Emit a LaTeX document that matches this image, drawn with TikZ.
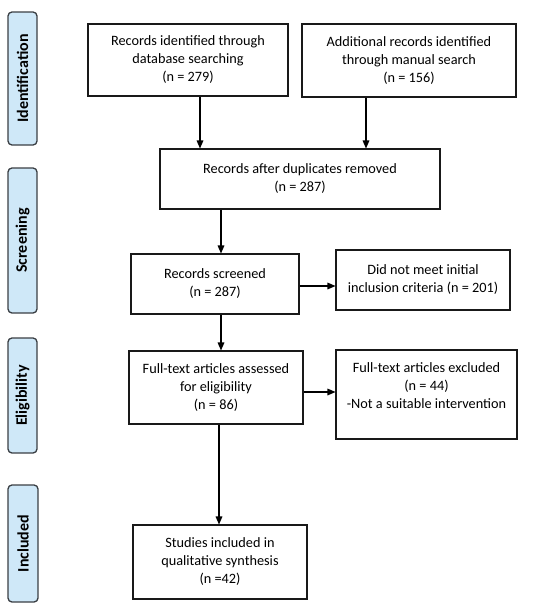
\documentclass[tikz,border=0pt]{standalone}
\usepackage{fontspec}
\setmainfont{Carlito}
\usetikzlibrary{arrows.meta}
\definecolor{stagefill}{HTML}{CFE8F8}
\definecolor{stageline}{HTML}{3A3F44}
\begin{document}
\begin{tikzpicture}[x=0.75pt,y=-0.75pt,
  sz/.style 2 args={minimum width=#1*0.75pt, minimum height=#2*0.75pt},
  flowbox/.style={draw=black!90, line width=0.8pt, fill=white, align=center,
    inner sep=0pt, font=\fontsize{10.7}{13.5}\selectfont},
  stage/.style={draw=stageline, line width=1pt, fill=stagefill, rounded corners=3pt,
    rotate=90, inner sep=0pt, font=\fontsize{12}{14}\selectfont\bfseries},
  flow/.style={line width=0.8pt, -{Triangle[length=6pt,width=5pt]}}]
\useasboundingbox (0,0) rectangle (546,607);
% stage labels
\node[stage, sz={133}{29}] (s1) at (22.5,78.5) {Identification};
\node[stage, sz={145}{29}] (s2) at (22.5,240.5) {Screening};
\node[stage, sz={115}{29}] (s3) at (22.5,395.5) {Eligibility};
\node[stage, sz={117}{30}] (s4) at (23,543.5) {Included};
% boxes
\node[flowbox, sz={200}{72}] (b1) at (188,60) {Records identified through\\database searching\\(n = 279)};
\node[flowbox, sz={214}{73}] (b2) at (409,60.5) {Additional records identified\\through manual search\\(n = 156)};
\node[flowbox, sz={280}{60}] (b3) at (300,179) {Records after duplicates removed\\(n = 287)};
\node[flowbox, sz={168}{60}] (b4) at (215,284) {Records screened\\(n = 287)};
\node[flowbox, sz={174}{60}] (b5) at (423,280) {Did not meet initial\\inclusion criteria (n = 201)};
\node[flowbox, sz={174}{73}] (b6) at (216,387.5) {Full-text articles assessed\\for eligibility\\(n = 86)};
\node[flowbox, sz={181}{89}] (b7) at (426.5,394.5) {};
\node[flowbox, draw=none, fill=none, anchor=north] (b7t) at (426.5,362) {Full-text articles excluded\\(n = 44)\\-Not a suitable intervention};
\node[flowbox, sz={174}{74}] (b8) at (220,562) {Studies included in\\qualitative synthesis\\(n =42)};
% connectors
\coordinate (a1) at (200,0);
\coordinate (a2) at (366,0);
\coordinate (a3) at (221,0);
\coordinate (a4) at (0,286);
\coordinate (a5) at (0,392);
\coordinate (a6) at (219,0);
\draw[flow] (b1.south -| a1) -- (b3.north -| a1);
\draw[flow] (b2.south -| a2) -- (b3.north -| a2);
\draw[flow] (b3.south -| a3) -- (b4.north -| a3);
\draw[flow] (b4.east |- a4) -- (b5.west |- a4);
\draw[flow] (b4.south -| a3) -- (b6.north -| a3);
\draw[flow] (b6.east |- a5) -- (b7.west |- a5);
\draw[flow] (b6.south -| a6) -- (b8.north -| a6);
\end{tikzpicture}
\end{document}
